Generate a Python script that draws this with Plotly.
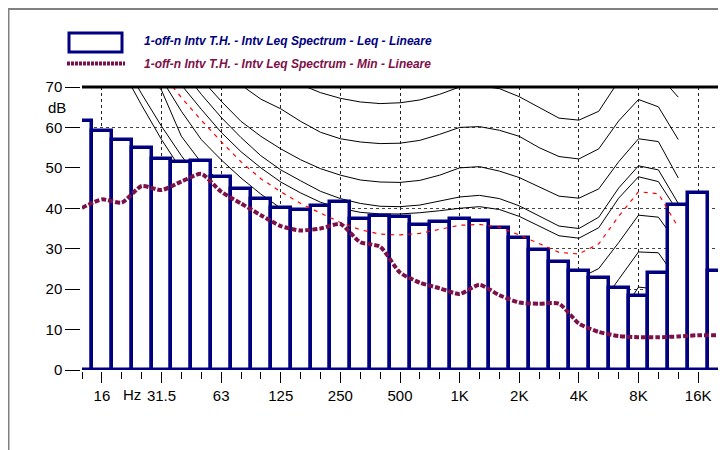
import plotly.graph_objects as go

# ---------------- data ----------------
freqs = ["12.5", "16", "20", "25", "31.5", "40", "50", "63", "80", "100", "125", "160",
         "200", "250", "315", "400", "500", "630", "800", "1K", "1.25K", "1.6K", "2K",
         "2.5K", "3.15K", "4K", "5K", "6.3K", "8K", "10K", "12.5K", "16K", "20K"]

leq = [61.6, 59.1, 56.9, 54.9, 52.2, 51.4, 51.8, 47.8, 44.8, 42.2, 40.0, 39.7, 40.5,
       41.5, 37.3, 38.0, 37.9, 35.9, 36.7, 37.4, 36.9, 35.1, 32.6, 29.7, 26.8, 24.4,
       22.7, 20.4, 18.2, 24.0, 40.9, 43.7, 24.5]

lmin = [40.1, 42.2, 41.4, 45.5, 44.5, 46.6, 48.5, 44.1, 41.2, 38.3, 35.6, 34.5, 35.0,
        36.1, 31.6, 30.5, 24.1, 21.6, 20.2, 18.8, 21.1, 18.5, 16.7, 16.4, 16.4, 11.5,
        9.4, 8.4, 8.1, 8.1, 8.3, 8.6, 8.6]

# equal-loudness style reference curves, 20 Hz .. 12.5 kHz
curve_freqs = freqs[2:31]
curve_70 = [104, 99, 94, 90, 86, 82, 79, 76.2, 73.6, 70.6, 68.6, 67.2, 66.3, 65.9, 66.1,
            66.8, 68.2, 70, 70.3, 69.6, 67.6, 65, 62.3, 61.8, 64, 71.5, 76, 73, 67.5]
curve_60 = [98, 92, 86, 81, 77, 73.5, 70.5, 67, 64.6, 61.5, 58.8, 57.2, 56.4, 56, 56.1,
            56.8, 58.3, 60, 60.2, 59.3, 57.8, 55, 52.8, 52.2, 54.7, 61.6, 66.9, 65.1, 57.0]
curve_50 = [95, 88, 82, 76, 72, 66.5, 61.5, 57.8, 54.7, 52, 49.8, 48.2, 47, 46.5, 46.4,
            46.9, 48.2, 50, 50.3, 49.2, 47.6, 45.3, 43, 42.5, 44.8, 51.5, 57.2, 56.5, 47.5]
curve_43 = [92, 86, 80, 74.5, 68.2, 62.5, 57.5, 53, 49.5, 46.8, 44.2, 42.4, 41.2, 40.5,
            40.4, 40.8, 41.8, 42.8, 43.2, 42.4, 40.6, 38, 35.6, 35.0, 37.8, 45, 50.5, 49.5, 41.2]
curve_40 = [90, 84, 77, 70.5, 64.5, 58.8, 54, 50, 46.5, 43.8, 41.5, 40, 39, 38.6, 38.6,
            38.9, 39.4, 40, 40.4, 39.7, 38, 35.5, 33.2, 32.6, 35.2, 42.5, 47.8, 46.6, 39]
curve_30 = [85, 79, 72, 64, 57, 52, 47.5, 43.5, 40, 37.5, 35.3, 33.5, 32, 31, 30.4,
            30, 29.9, 30, 30.5, 29.8, 28, 25.6, 23.3, 22.6, 25.1, 31.5, 38.3, 37.8, 31]
curve_20 = [82, 75, 69.2, 57.8, 51.3, 46, 41, 36.5, 32.5, 29, 26, 23.7, 22, 20.8, 20.2,
            20, 20, 20, 20.5, 19.6, 17.8, 15.5, 13.3, 12.8, 15.5, 22.4, 29.2, 29, 22]
curve_10 = [77, 68.3, 60.3, 53, 46.5, 41, 35.5, 30.5, 26, 22, 18.5, 15.8, 13.6, 12, 11,
            10.4, 10.1, 10, 10.5, 9.5, 7.8, 5.5, 3.5, 3, 5.8, 13, 20.5, 20, 14]
curve_0 = [74.5, 65.5, 57, 49.5, 43, 37, 31.5, 26.5, 22, 18, 14.5, 11.5, 8.6, 6.2, 4.4,
           3, 2.2, 2.4, 3.5, 1.7, 0, 0, 0, 0, 0, 6, 12.6, 13.9, 12.3]
curve_red = [110, 95, 73.5, 67.4, 61.8, 56.5, 51.5, 47.3, 44.1, 41.2, 38.8, 36.5, 34.7,
             33.6, 33.4, 33.8, 34.8, 35.8, 36, 35.3, 33.4, 31.2, 29.1, 28.7, 31.2, 38,
             44.1, 43.6, 35.3]

tick_labels = ["16", "31.5", "63", "125", "250", "500", "1K", "2K", "4K", "8K", "16K"]
y_ticks = [0, 10, 20, 30, 40, 50, 60, 70]

leq_name = "1-off-n Intv T.H. - Intv Leq Spectrum - Leq - Lineare"
min_name = "1-off-n Intv T.H. - Intv Leq Spectrum - Min - Lineare"

# ---------------- figure ----------------
# page is offset by the 8px body margin, so the figure is 718x442 placed at (8, 8)
OFF = 8
W, H = 726 - OFF, 450 - OFF
PL, PR, PT, PB = 82, 718, 87, 370          # plot box in page pixels
L, T = PL - OFF, PT - OFF
R, B = (W + OFF) - PR, (H + OFF) - PB
PW, PH = PR - PL, PB - PT

def px(x):
    return (x - PL) / PW

def py(y):
    return (PB - y) / PH

xi = list(range(len(freqs)))
cx = [freqs.index(f) for f in curve_freqs]

NAVY = "#000080"
MAROON = "#7d1048"

fig = go.Figure()

for c in [curve_70, curve_60, curve_50, curve_43, curve_40, curve_30, curve_20,
          curve_10, curve_0]:
    fig.add_trace(go.Scatter(x=cx, y=c, mode="lines", line=dict(color="black", width=1),
                             showlegend=False, hoverinfo="skip", zorder=0))

fig.add_trace(go.Bar(x=xi, y=leq, width=1, marker=dict(color="white",
                     line=dict(color=NAVY, width=3.5)), name=leq_name,
                     showlegend=False, zorder=1))

fig.add_trace(go.Scatter(x=cx, y=curve_red, mode="lines",
                         line=dict(color="#ff0000", width=1.2, dash="4px,5px"),
                         showlegend=False, hoverinfo="skip", zorder=2))

fig.add_trace(go.Scatter(x=xi, y=lmin, mode="lines", name=min_name,
                         line=dict(color=MAROON, width=4, dash="5px,2px", shape="spline",
                                   smoothing=0.6),
                         showlegend=False, zorder=3))

fig.update_layout(
    width=W, height=H, margin=dict(l=L, r=R, t=T, b=B, autoexpand=False),
    paper_bgcolor="white", plot_bgcolor="white",
    font=dict(family="Liberation Sans, Arial, sans-serif", size=15, color="black"),
    bargap=0,
    xaxis=dict(range=[0, len(freqs) - 1], tickmode="array",
               tickvals=[freqs.index(t) for t in tick_labels], ticktext=tick_labels,
               ticks="outside", ticklen=11, tickwidth=1, tickcolor="black",
               showgrid=True, gridcolor="#222", griddash="3px,3px", gridwidth=1,
               showline=True, linecolor="black", linewidth=1.5, mirror=True,
               zeroline=False, automargin=False,
               minor=dict(tickvals=xi, ticks="outside", ticklen=7, tickcolor="black",
                          tickwidth=1, showgrid=False)),
    yaxis=dict(range=[0, 70], tickmode="array", tickvals=y_ticks,
               ticks="outside", ticklen=15, tickwidth=1, tickcolor="black",
               showgrid=True, gridcolor="#444", griddash="3px,3px", gridwidth=1,
               showline=True, linecolor="black", linewidth=1.5, mirror=True,
               zeroline=False, automargin=False),
    showlegend=False,
)

shapes = [
    dict(type="line", xref="paper", yref="paper", x0=0, x1=1, y0=1, y1=1,
         line=dict(color="black", width=3)),
    dict(type="line", xref="paper", yref="paper", x0=px(8), x1=px(726), y0=py(9), y1=py(9),
         line=dict(color="#808080", width=2)),
    dict(type="line", xref="paper", yref="paper", x0=px(8.5), x1=px(8.5), y0=py(9), y1=py(450),
         line=dict(color="#808080", width=2)),
    dict(type="rect", xref="paper", yref="paper", x0=px(69), x1=px(122), y0=py(33), y1=py(52),
         line=dict(color=NAVY, width=3), fillcolor="white"),
    dict(type="line", xref="paper", yref="paper", x0=px(67), x1=px(125), y0=py(63.5), y1=py(63.5),
         line=dict(color=MAROON, width=4, dash="3px,1px")),
]
fig.update_layout(shapes=shapes)

leg_font = "Liberation Sans, Arial"
annotations = [
    dict(text="<b><i>" + leq_name + "</i></b>", xref="paper", yref="paper",
         x=px(142), y=py(41.5), xanchor="left", yanchor="middle", showarrow=False,
         font=dict(family=leg_font, size=12, color=NAVY)),
    dict(text="<b><i>" + min_name + "</i></b>", xref="paper", yref="paper",
         x=px(142), y=py(63.5), xanchor="left", yanchor="middle", showarrow=False,
         font=dict(family=leg_font, size=12, color=MAROON)),
    dict(text="dB", xref="paper", yref="paper", x=px(56.5), y=py(107.5),
         xanchor="center", yanchor="middle", showarrow=False,
         font=dict(size=15, color="black")),
    dict(text="Hz", xref="paper", yref="paper", x=px(131.7), y=py(394),
         xanchor="center", yanchor="middle", showarrow=False,
         font=dict(size=15, color="black")),
]
fig.update_layout(annotations=annotations)

fig.write_html("out.html")
